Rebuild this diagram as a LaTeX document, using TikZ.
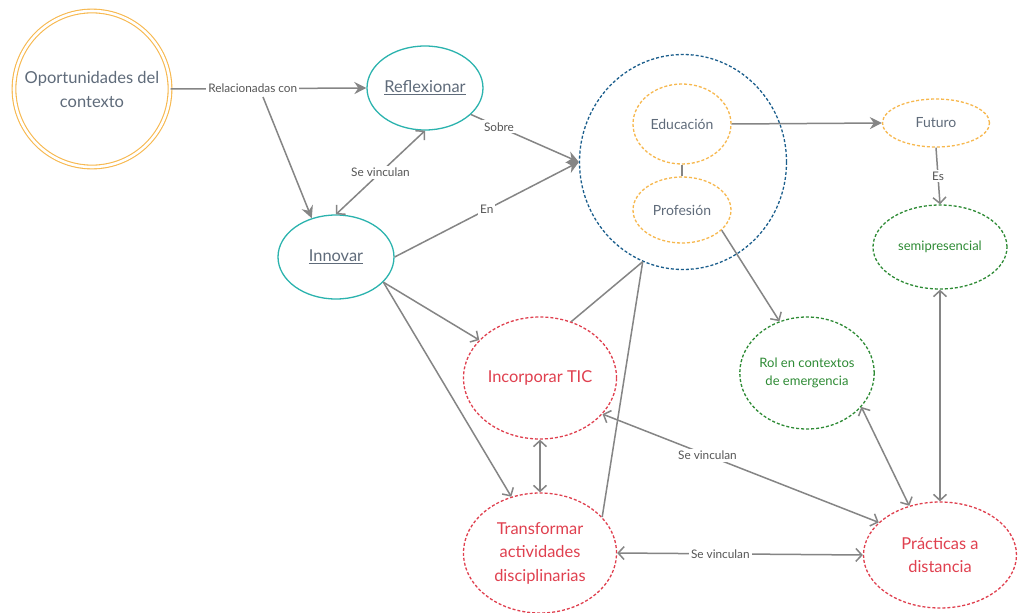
\documentclass[tikz,border=0pt]{standalone}
\usepackage{fontspec}
\setmainfont{Lato}
\usetikzlibrary{arrows.meta,shapes.geometric}
\definecolor{borange}{HTML}{F7B84E}
\definecolor{bteal}{HTML}{2BB3AE}
\definecolor{bblue}{HTML}{1B5E8C}
\definecolor{bgreen}{HTML}{2E8B35}
\definecolor{bred}{HTML}{E0404F}
\definecolor{tgray}{HTML}{5F6B7A}
\definecolor{lgray}{HTML}{858585}
\definecolor{lbltext}{HTML}{555555}
\tikzset{
  base/.style={ellipse, inner sep=0pt, align=center, line width=1.3pt},
  tealnode/.style={base, draw=bteal, text=tgray, font=\fontsize{16.4}{20}\selectfont},
  orgnode/.style={base, draw=borange, dash pattern=on 3pt off 2pt, text=tgray, font=\fontsize{14}{17}\selectfont},
  grnnode/.style={base, draw=bgreen, dash pattern=on 3pt off 2pt, text=bgreen, font=\fontsize{13}{18}\selectfont},
  rednode/.style={base, draw=bred, dash pattern=on 3pt off 2pt, text=bred, font=\fontsize{16.4}{23.5}\selectfont},
  conn/.style={draw=lgray, line width=1.5pt},
  bigarr/.style={conn, -{Stealth[length=12pt,width=12pt,inset=4pt]}},
  openarr/.style={conn, -{Straight Barb[length=6pt,width=13pt]}},
  twoarr/.style={conn, {Straight Barb[length=6pt,width=13pt]}-{Straight Barb[length=6pt,width=13pt]}},
  lbl/.style={fill=white, text=lbltext, inner sep=2pt, font=\fontsize{11.8}{14}\selectfont}
}
\begin{document}
\begin{tikzpicture}[x=1pt,y=-1pt]
\useasboundingbox[fill=white] (0,0) rectangle (1021,613);
% nodes
\node[base, circle, draw=borange, line width=1.1pt, double=white, double distance=2.6pt, minimum size=156pt, text=tgray, font=\fontsize{16.5}{24}\selectfont] (opp) at (92,89) {Oportunidades del\\contexto};
\node[tealnode, minimum width=116pt, minimum height=84pt] (refl) at (425,88) {\underline{Reflexionar}};
\node[tealnode, minimum width=116pt, minimum height=84pt] (inn) at (336,257) {\underline{Innovar}};
\node[base, draw=bblue, dash pattern=on 3pt off 2pt, minimum width=207pt, minimum height=215pt] (big) at (683,162) {};
\node[orgnode, minimum width=98pt, minimum height=80pt] (edu) at (682,124) {Educación};
\node[orgnode, minimum width=98pt, minimum height=66pt] (prof) at (682,210) {Profesión};
\node[orgnode, minimum width=107pt, minimum height=48pt] (fut) at (936,123) {Futuro};
\node[grnnode, minimum width=134pt, minimum height=84pt] (semi) at (940,247) {semipresencial};
\node[grnnode, minimum width=134pt, minimum height=112pt] (rol) at (807,373) {Rol en contextos\\de emergencia};
\node[rednode, minimum width=153pt, minimum height=122pt] (tic) at (540,378) {Incorporar TIC};
\node[rednode, minimum width=153pt, minimum height=120pt] (trans) at (540,553) {Transformar\\actividades\\disciplinarias};
\node[rednode, minimum width=153pt, minimum height=106pt] (prac) at (940,555) {Prácticas a\\distancia};
% connectors
\draw[bigarr] (opp.east) -- node[lbl, pos=0.42] (rel) {Relacionadas con} (refl.west);
\coordinate (relb) at (263,97);
\draw[bigarr] (relb) -- (inn.122);
\draw[twoarr] (inn.north) -- node[lbl] {Se vinculan} (refl.south);
\draw[bigarr] (refl.-30) -- node[lbl, pos=0.26] {Sobre} (big.180);
\draw[bigarr] (inn.east) -- node[lbl] {En} (big.180);
\draw[openarr] (inn.-28) -- (tic.148);
\draw[openarr] (inn.-28) -- (trans.117);
\draw[conn] (tic.61) -- (big.-112);
\draw[conn] (trans.30) -- (big.-112);
\draw[twoarr] (tic.south) -- (trans.north);
\draw[bigarr] (edu.east) -- (fut.west);
\draw[conn] (edu.south) -- (prof.north);
\draw[openarr] (fut.south) -- node[lbl] {Es} (semi.north);
\draw[openarr] (prof.-27) -- (rol.118);
\draw[twoarr] (semi.south) -- (prac.north);
\draw[twoarr] (rol.-32) -- (prac.122);
\draw[twoarr] (tic.-30) -- node[lbl, pos=0.38] {Se vinculan} (prac.152);
\draw[twoarr] (trans.east) -- node[lbl, pos=0.42] {Se vinculan} (prac.west);
\end{tikzpicture}
\end{document}
